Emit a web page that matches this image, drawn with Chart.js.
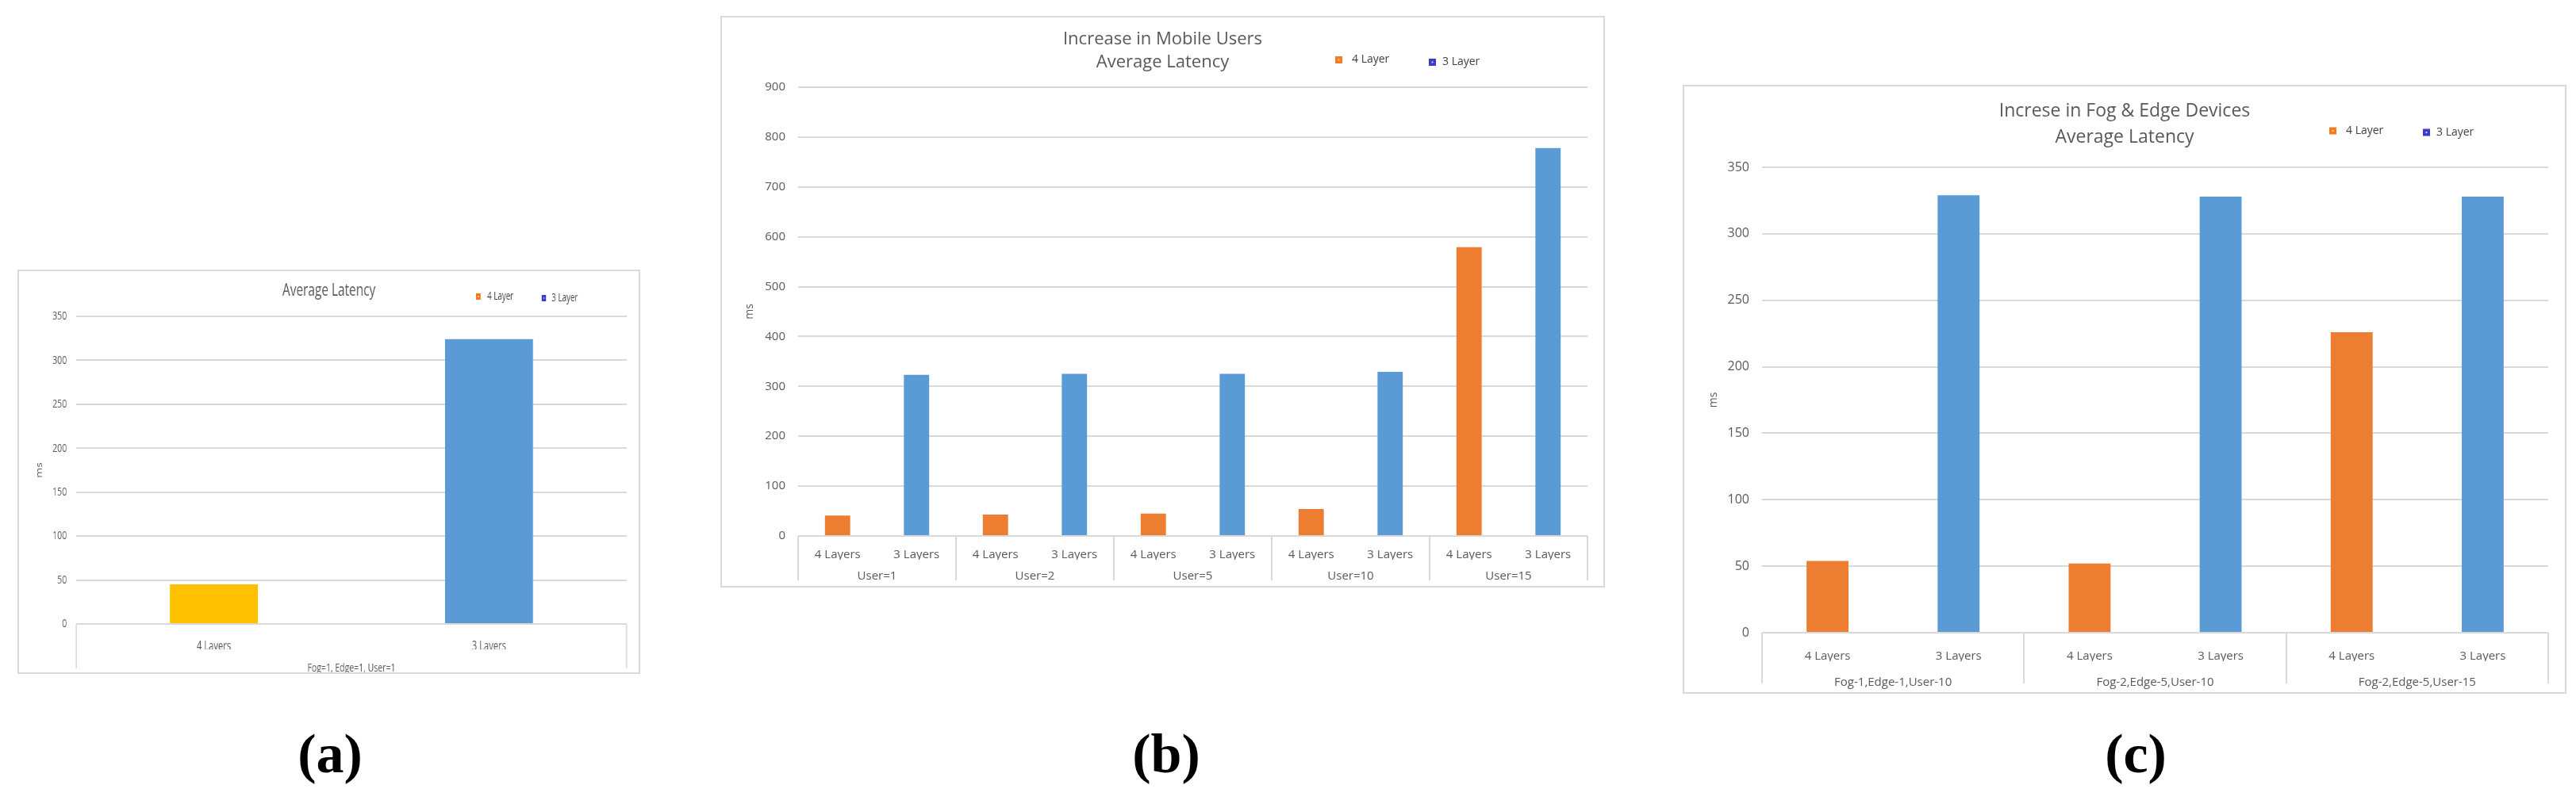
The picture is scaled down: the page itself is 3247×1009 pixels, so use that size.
<!DOCTYPE html>
<html><head><meta charset="utf-8">
<script src="https://cdn.jsdelivr.net/npm/chart.js@4.4.1/dist/chart.umd.min.js"></script>
<style>
html,body{margin:0;padding:0;background:#fff;width:3247px;height:1009px;overflow:hidden;font-family:'Open Sans',sans-serif;}
.panel{position:absolute;box-sizing:border-box;border:2px solid #d9d9d9;background:#fff;overflow:hidden;}
.inner{position:absolute;left:0;top:0;}
.cap{position:absolute;top:916px;width:200px;text-align:center;font-family:'Liberation Serif',serif;font-weight:bold;font-size:70px;line-height:70px;color:#000;}
</style></head><body>
<div class="panel" style="left:22px;top:340px;width:785px;height:510px"><div class="inner" style="width:1116px;height:506px;transform:scaleX(0.7);transform-origin:0 0"><canvas id="ca"></canvas></div></div>
<div class="panel" style="left:908px;top:20px;width:1115px;height:721px"><div class="inner" style="width:1111px;height:717px"><canvas id="cb"></canvas></div></div>
<div class="panel" style="left:2121px;top:107px;width:1114px;height:768px"><div class="inner" style="width:1110px;height:764px"><canvas id="cc"></canvas></div></div>
<div class="cap" style="left:316px">(a)</div>
<div class="cap" style="left:1370px">(b)</div>
<div class="cap" style="left:2592px">(c)</div>
<script>
// ---- data ----
const layerLabels = ['4 Layers', '3 Layers'];
const seriesNames = ['4 Layer', '3 Layer'];

const titleA = ['Average Latency'];
const groupsA = ['Fog=1, Edge=1, User=1'];
const fourLayerA = [45];
const threeLayerA = [324];
const yMaxA = 350, yStepA = 50;

const titleB = ['Increase in Mobile Users', 'Average Latency'];
const groupsB = ['User=1', 'User=2', 'User=5', 'User=10', 'User=15'];
const fourLayerB = [41, 43, 45, 54, 579];
const threeLayerB = [323, 325, 325, 329, 778];
const yMaxB = 900, yStepB = 100;

const titleC = ['Increse in Fog & Edge Devices', 'Average Latency'];
const groupsC = ['Fog-1,Edge-1,User-10', 'Fog-2,Edge-5,User-10', 'Fog-2,Edge-5,User-15'];
const fourLayerC = [54, 52, 226];
const threeLayerC = [329, 328, 328];
const yMaxC = 350, yStepC = 50;

const yAxisTitle = 'ms';

// ---- styling ----
const TXT = '#595959';
const GRID = '#d9d9d9';
Chart.defaults.font.family = "'Open Sans', sans-serif";

const panelDecor = {
  id: 'panelDecor',
  afterDraw(chart, args, o) {
    const ctx = chart.ctx, ca = chart.chartArea;
    const gx = chart.scales.x2;
    ctx.save();
    ctx.strokeStyle = GRID; ctx.lineWidth = 2;
    const n = gx.getLabels().length;
    for (let i = 0; i <= n; i++) {
      const px = Math.round(gx.getPixelForValue(i - 0.5));
      ctx.beginPath(); ctx.moveTo(px, ca.bottom); ctx.lineTo(px, ca.bottom + o.dividerLen); ctx.stroke();
    }
    ctx.fillStyle = TXT;
    ctx.font = o.titleSize + "px 'Open Sans'";
    ctx.textAlign = 'center'; ctx.textBaseline = 'middle';
    o.titleLines.forEach((t, i) => ctx.fillText(t, chart.width / 2, o.titleY[i]));
    chart.data.datasets.forEach((ds, i) => {
      const p = o.legendPos[i], m = o.markerSize;
      ctx.fillStyle = o.legendColors[i];
      ctx.fillRect(p[0], p[1] - m / 2, m, m);
      ctx.fillStyle = 'rgba(255,255,255,0.7)';
      ctx.fillRect(p[0] + m / 2 - 1, p[1] - 1, 2, 2);
      ctx.fillStyle = '#404040';
      ctx.font = "14px 'Open Sans'";
      ctx.textAlign = 'left'; ctx.textBaseline = 'middle';
      ctx.fillText(ds.label, p[0] + o.legendGap[i], p[1]);
    });
    ctx.restore();
  }
};

function makeChart(id, groups, four, three, titleLines, yMax, yStep, L) {
  const cats = groups.flatMap(() => layerLabels);
  const fourData = groups.flatMap((g, i) => [four[i], null]);
  const threeData = groups.flatMap((g, i) => [null, three[i]]);
  return new Chart(document.getElementById(id), {
    type: 'bar',
    data: {
      labels: cats,
      datasets: [
        { label: seriesNames[0], data: fourData, backgroundColor: L.fourColor, barPercentage: 0.32, categoryPercentage: 1 },
        { label: seriesNames[1], data: threeData, backgroundColor: '#5B9BD5', barPercentage: 0.32, categoryPercentage: 1 }
      ]
    },
    options: {
      responsive: true, maintainAspectRatio: false, animation: false,
      layout: { padding: { left: 0, right: L.padRight, top: L.padTop, bottom: 0 } },
      plugins: {
        legend: { display: false }, title: { display: false }, tooltip: { enabled: false },
        panelDecor: {
          dividerLen: L.dividerLen, titleSize: L.titleSize, titleLines: titleLines, titleY: L.titleY,
          legendPos: L.legendPos, legendGap: L.legendGap, markerSize: L.markerSize,
          legendColors: ['#F47B20', '#3C3CC8']
        }
      },
      scales: {
        x: {
          stacked: true,
          grid: { display: false }, border: { display: false },
          ticks: { color: TXT, font: { size: L.labelSize }, padding: L.xPad, autoSkip: false, maxRotation: 0 },
          afterFit: s => { s.height = L.xH; }
        },
        x2: {
          type: 'category', labels: groups, position: 'bottom', offset: true,
          grid: { display: false }, border: { display: false },
          ticks: { color: TXT, font: { size: L.groupSize }, padding: L.x2Pad, autoSkip: false, maxRotation: 0 },
          afterFit: s => { s.height = L.x2H; }
        },
        y: {
          stacked: true, min: 0, max: yMax,
          ticks: { stepSize: yStep, color: TXT, font: { size: L.tickSize }, padding: L.tickPad },
          grid: { color: GRID, lineWidth: 2, drawTicks: false },
          border: { display: false },
          title: { display: true, text: yAxisTitle, color: TXT, font: { size: 14 }, padding: { top: L.msPad, bottom: 0 } },
          afterFit: s => { s.width = L.yWidth; }
        }
      }
    },
    plugins: [panelDecor]
  });
}

function drawAll() {
  makeChart('ca', groupsA, fourLayerA, threeLayerA, titleA, yMaxA, yStepA, {
    fourColor: '#FFC000', padRight: 22, padTop: 57, yWidth: 103, xH: 32, x2H: 29, xPad: 11, x2Pad: 7,
    tickPad: 17, tickSize: 15, labelSize: 16, groupSize: 15, titleSize: 22, titleY: [25],
    legendPos: [[823, 32], [941, 34]], legendGap: [20, 18], markerSize: 8, dividerLen: 56, msPad: 28.6
  });
  makeChart('cb', groupsB, fourLayerB, threeLayerB, titleB, yMaxB, yStepB, {
    fourColor: '#ED7D31', padRight: 20, padTop: 88, yWidth: 96, xH: 30, x2H: 33, xPad: 7, x2Pad: 4,
    tickPad: 16, tickSize: 15, labelSize: 15, groupSize: 15, titleSize: 22, titleY: [28, 57],
    legendPos: [[773, 53.5], [891, 56.5]], legendGap: [21, 17], markerSize: 9, dividerLen: 56, msPad: 26.6
  });
  makeChart('cc', groupsC, fourLayerC, threeLayerC, titleC, yMaxC, yStepC, {
    fourColor: '#ED7D31', padRight: 21, padTop: 102, yWidth: 98, xH: 36, x2H: 39, xPad: 13, x2Pad: 10,
    tickPad: 16, tickSize: 16, labelSize: 15, groupSize: 15, titleSize: 23, titleY: [31, 64],
    legendPos: [[813, 56], [931, 58]], legendGap: [21, 17], markerSize: 9, dividerLen: 64, msPad: 28.6
  });
}
(document.fonts && document.fonts.load ? Promise.all([document.fonts.load("15px 'Open Sans'"), document.fonts.load("bold 70px 'Liberation Serif'")]) : Promise.resolve()).then(drawAll, drawAll);
</script>
</body></html>
